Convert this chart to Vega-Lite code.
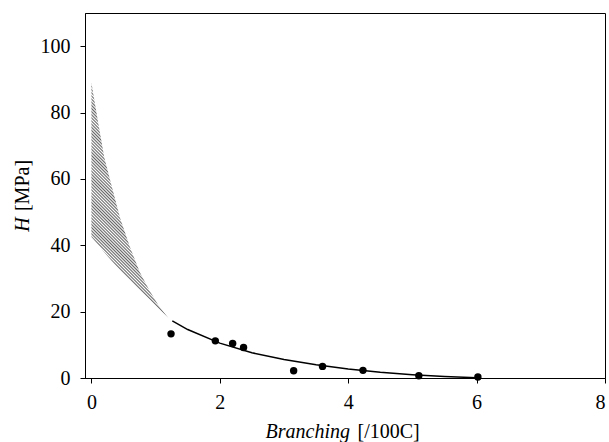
{
  "$schema": "https://vega.github.io/schema/vega-lite/v6.json",
  "width": 520,
  "height": 365,
  "autosize": "none",
  "padding": {"left": 85, "top": 13, "right": 4, "bottom": 64},
  "background": "white",
  "config": {
    "view": {"stroke": "black", "strokeWidth": 1},
    "font": "Liberation Serif",
    "axis": {
      "grid": false,
      "domainColor": "black",
      "tickColor": "black",
      "tickSize": 5,
      "labelFont": "Liberation Serif",
      "labelFontSize": 20,
      "labelColor": "black",
      "titleFont": "Liberation Serif",
      "titleFontSize": 20,
      "titleFontWeight": "normal",
      "titleColor": "black"
    }
  },
  "datasets": {
    "band": [
      {"b": 0, "hi": 89, "lo": 42.5},
      {"b": 0.1, "hi": 77.5, "lo": 40.2},
      {"b": 0.2, "hi": 66.5, "lo": 37.9},
      {"b": 0.3, "hi": 59, "lo": 35.6},
      {"b": 0.45, "hi": 48, "lo": 32.4},
      {"b": 0.6, "hi": 39.5, "lo": 29.5},
      {"b": 0.75, "hi": 32, "lo": 26.6},
      {"b": 0.9, "hi": 26.5, "lo": 23.8},
      {"b": 1.05, "hi": 21.7, "lo": 20.9},
      {"b": 1.2, "hi": 18, "lo": 18}
    ],
    "fit": [
      {"b": 1.26, "h": 17.2},
      {"b": 1.5, "h": 14.6},
      {"b": 2.0, "h": 10.5},
      {"b": 2.5, "h": 7.6},
      {"b": 3.0, "h": 5.6},
      {"b": 3.5, "h": 4.0},
      {"b": 4.0, "h": 2.7},
      {"b": 4.5, "h": 1.7},
      {"b": 5.0, "h": 1.0},
      {"b": 5.5, "h": 0.45},
      {"b": 6.0, "h": 0.1}
    ],
    "obs": [
      {"b": 1.24, "h": 13.3},
      {"b": 1.93, "h": 11.2},
      {"b": 2.2, "h": 10.4},
      {"b": 2.37, "h": 9.2},
      {"b": 3.15, "h": 2.2},
      {"b": 3.6, "h": 3.5},
      {"b": 4.23, "h": 2.3},
      {"b": 5.1, "h": 0.7},
      {"b": 6.02, "h": 0.3}
    ]
  },
  "layer": [
    {
      "data": {"name": "band"},
      "mark": {"type": "area", "opacity": 1,
        "fill": {"gradient": "linear", "x1": 0, "y1": 1, "x2": 0.394, "y2": -0.2,
          "stops": [
            {"offset": 0, "color": "#666"}, {"offset": 0.005, "color": "#fff"},
            {"offset": 0.01, "color": "#666"}, {"offset": 0.015, "color": "#fff"},
            {"offset": 0.02, "color": "#666"}, {"offset": 0.025, "color": "#fff"},
            {"offset": 0.03, "color": "#666"}, {"offset": 0.035, "color": "#fff"},
            {"offset": 0.04, "color": "#666"}, {"offset": 0.045, "color": "#fff"},
            {"offset": 0.05, "color": "#666"}, {"offset": 0.055, "color": "#fff"},
            {"offset": 0.06, "color": "#666"}, {"offset": 0.065, "color": "#fff"},
            {"offset": 0.07, "color": "#666"}, {"offset": 0.075, "color": "#fff"},
            {"offset": 0.08, "color": "#666"}, {"offset": 0.085, "color": "#fff"},
            {"offset": 0.09, "color": "#666"}, {"offset": 0.095, "color": "#fff"},
            {"offset": 0.1, "color": "#666"}, {"offset": 0.105, "color": "#fff"},
            {"offset": 0.11, "color": "#666"}, {"offset": 0.115, "color": "#fff"},
            {"offset": 0.12, "color": "#666"}, {"offset": 0.125, "color": "#fff"},
            {"offset": 0.13, "color": "#666"}, {"offset": 0.135, "color": "#fff"},
            {"offset": 0.14, "color": "#666"}, {"offset": 0.145, "color": "#fff"},
            {"offset": 0.15, "color": "#666"}, {"offset": 0.155, "color": "#fff"},
            {"offset": 0.16, "color": "#666"}, {"offset": 0.165, "color": "#fff"},
            {"offset": 0.17, "color": "#666"}, {"offset": 0.175, "color": "#fff"},
            {"offset": 0.18, "color": "#666"}, {"offset": 0.185, "color": "#fff"},
            {"offset": 0.19, "color": "#666"}, {"offset": 0.195, "color": "#fff"},
            {"offset": 0.2, "color": "#666"}, {"offset": 0.205, "color": "#fff"},
            {"offset": 0.21, "color": "#666"}, {"offset": 0.215, "color": "#fff"},
            {"offset": 0.22, "color": "#666"}, {"offset": 0.225, "color": "#fff"},
            {"offset": 0.23, "color": "#666"}, {"offset": 0.235, "color": "#fff"},
            {"offset": 0.24, "color": "#666"}, {"offset": 0.245, "color": "#fff"},
            {"offset": 0.25, "color": "#666"}, {"offset": 0.255, "color": "#fff"},
            {"offset": 0.26, "color": "#666"}, {"offset": 0.265, "color": "#fff"},
            {"offset": 0.27, "color": "#666"}, {"offset": 0.275, "color": "#fff"},
            {"offset": 0.28, "color": "#666"}, {"offset": 0.285, "color": "#fff"},
            {"offset": 0.29, "color": "#666"}, {"offset": 0.295, "color": "#fff"},
            {"offset": 0.3, "color": "#666"}, {"offset": 0.305, "color": "#fff"},
            {"offset": 0.31, "color": "#666"}, {"offset": 0.315, "color": "#fff"},
            {"offset": 0.32, "color": "#666"}, {"offset": 0.325, "color": "#fff"},
            {"offset": 0.33, "color": "#666"}, {"offset": 0.335, "color": "#fff"},
            {"offset": 0.34, "color": "#666"}, {"offset": 0.345, "color": "#fff"},
            {"offset": 0.35, "color": "#666"}, {"offset": 0.355, "color": "#fff"},
            {"offset": 0.36, "color": "#666"}, {"offset": 0.365, "color": "#fff"},
            {"offset": 0.37, "color": "#666"}, {"offset": 0.375, "color": "#fff"},
            {"offset": 0.38, "color": "#666"}, {"offset": 0.385, "color": "#fff"},
            {"offset": 0.39, "color": "#666"}, {"offset": 0.395, "color": "#fff"},
            {"offset": 0.4, "color": "#666"}, {"offset": 0.405, "color": "#fff"},
            {"offset": 0.41, "color": "#666"}, {"offset": 0.415, "color": "#fff"},
            {"offset": 0.42, "color": "#666"}, {"offset": 0.425, "color": "#fff"},
            {"offset": 0.43, "color": "#666"}, {"offset": 0.435, "color": "#fff"},
            {"offset": 0.44, "color": "#666"}, {"offset": 0.445, "color": "#fff"},
            {"offset": 0.45, "color": "#666"}, {"offset": 0.455, "color": "#fff"},
            {"offset": 0.46, "color": "#666"}, {"offset": 0.465, "color": "#fff"},
            {"offset": 0.47, "color": "#666"}, {"offset": 0.475, "color": "#fff"},
            {"offset": 0.48, "color": "#666"}, {"offset": 0.485, "color": "#fff"},
            {"offset": 0.49, "color": "#666"}, {"offset": 0.495, "color": "#fff"},
            {"offset": 0.5, "color": "#666"}, {"offset": 0.505, "color": "#fff"},
            {"offset": 0.51, "color": "#666"}, {"offset": 0.515, "color": "#fff"},
            {"offset": 0.52, "color": "#666"}, {"offset": 0.525, "color": "#fff"},
            {"offset": 0.53, "color": "#666"}, {"offset": 0.535, "color": "#fff"},
            {"offset": 0.54, "color": "#666"}, {"offset": 0.545, "color": "#fff"},
            {"offset": 0.55, "color": "#666"}, {"offset": 0.555, "color": "#fff"},
            {"offset": 0.56, "color": "#666"}, {"offset": 0.565, "color": "#fff"},
            {"offset": 0.57, "color": "#666"}, {"offset": 0.575, "color": "#fff"},
            {"offset": 0.58, "color": "#666"}, {"offset": 0.585, "color": "#fff"},
            {"offset": 0.59, "color": "#666"}, {"offset": 0.595, "color": "#fff"},
            {"offset": 0.6, "color": "#666"}, {"offset": 0.605, "color": "#fff"},
            {"offset": 0.61, "color": "#666"}, {"offset": 0.615, "color": "#fff"},
            {"offset": 0.62, "color": "#666"}, {"offset": 0.625, "color": "#fff"},
            {"offset": 0.63, "color": "#666"}, {"offset": 0.635, "color": "#fff"},
            {"offset": 0.64, "color": "#666"}, {"offset": 0.645, "color": "#fff"},
            {"offset": 0.65, "color": "#666"}, {"offset": 0.655, "color": "#fff"},
            {"offset": 0.66, "color": "#666"}, {"offset": 0.665, "color": "#fff"},
            {"offset": 0.67, "color": "#666"}, {"offset": 0.675, "color": "#fff"},
            {"offset": 0.68, "color": "#666"}, {"offset": 0.685, "color": "#fff"},
            {"offset": 0.69, "color": "#666"}, {"offset": 0.695, "color": "#fff"},
            {"offset": 0.7, "color": "#666"}, {"offset": 0.705, "color": "#fff"},
            {"offset": 0.71, "color": "#666"}, {"offset": 0.715, "color": "#fff"},
            {"offset": 0.72, "color": "#666"}, {"offset": 0.725, "color": "#fff"},
            {"offset": 0.73, "color": "#666"}, {"offset": 0.735, "color": "#fff"},
            {"offset": 0.74, "color": "#666"}, {"offset": 0.745, "color": "#fff"},
            {"offset": 0.75, "color": "#666"}, {"offset": 0.755, "color": "#fff"},
            {"offset": 0.76, "color": "#666"}, {"offset": 0.765, "color": "#fff"},
            {"offset": 0.77, "color": "#666"}, {"offset": 0.775, "color": "#fff"},
            {"offset": 0.78, "color": "#666"}, {"offset": 0.785, "color": "#fff"},
            {"offset": 0.79, "color": "#666"}, {"offset": 0.795, "color": "#fff"},
            {"offset": 0.8, "color": "#666"}, {"offset": 0.805, "color": "#fff"},
            {"offset": 0.81, "color": "#666"}, {"offset": 0.815, "color": "#fff"},
            {"offset": 0.82, "color": "#666"}, {"offset": 0.825, "color": "#fff"},
            {"offset": 0.83, "color": "#666"}, {"offset": 0.835, "color": "#fff"},
            {"offset": 0.84, "color": "#666"}, {"offset": 0.845, "color": "#fff"},
            {"offset": 0.85, "color": "#666"}, {"offset": 0.855, "color": "#fff"},
            {"offset": 0.86, "color": "#666"}, {"offset": 0.865, "color": "#fff"},
            {"offset": 0.87, "color": "#666"}, {"offset": 0.875, "color": "#fff"},
            {"offset": 0.88, "color": "#666"}, {"offset": 0.885, "color": "#fff"},
            {"offset": 0.89, "color": "#666"}, {"offset": 0.895, "color": "#fff"},
            {"offset": 0.9, "color": "#666"}, {"offset": 0.905, "color": "#fff"},
            {"offset": 0.91, "color": "#666"}, {"offset": 0.915, "color": "#fff"},
            {"offset": 0.92, "color": "#666"}, {"offset": 0.925, "color": "#fff"},
            {"offset": 0.93, "color": "#666"}, {"offset": 0.935, "color": "#fff"},
            {"offset": 0.94, "color": "#666"}, {"offset": 0.945, "color": "#fff"},
            {"offset": 0.95, "color": "#666"}, {"offset": 0.955, "color": "#fff"},
            {"offset": 0.96, "color": "#666"}, {"offset": 0.965, "color": "#fff"},
            {"offset": 0.97, "color": "#666"}, {"offset": 0.975, "color": "#fff"},
            {"offset": 0.98, "color": "#666"}, {"offset": 0.985, "color": "#fff"},
            {"offset": 0.99, "color": "#666"}, {"offset": 0.995, "color": "#fff"},
            {"offset": 1, "color": "#666"}
          ]}},
      "encoding": {
        "x": {"field": "b", "type": "quantitative",
              "scale": {"domain": [-0.1, 8], "nice": false, "zero": false},
              "axis": {"orient": "bottom", "values": [0, 2, 4, 6, 8], "title": "Branching", "titleFontStyle": "italic",
                       "labelFont": "Liberation Serif", "labelFontSize": 20,
                       "labelPadding": 9, "titleAlign": "left", "titleX": 180, "titleY": 59, "titleBaseline": "alphabetic"}},
        "y": {"field": "hi", "type": "quantitative",
              "scale": {"domain": [0, 110], "nice": false},
              "axis": {"orient": "left", "values": [0, 20, 40, 60, 80, 100], "title": "H", "titleFontStyle": "italic",
                       "labelFont": "Liberation Serif", "labelFontSize": 20,
                       "labelPadding": 10, "titleAngle": -90, "titleX": -63, "titleY": 211, "titleAlign": "center", "titleBaseline": "middle"}},
        "y2": {"field": "lo"}
      }
    },
    {
      "data": {"name": "fit"},
      "mark": {"type": "line", "color": "black", "strokeWidth": 1.5},
      "encoding": {
        "x": {"field": "b", "type": "quantitative",
              "axis": {"orient": "bottom", "title": "[/100C]", "labels": false, "ticks": false, "domain": false,
                       "titleAlign": "left", "titleX": 272, "titleY": 59, "titleBaseline": "alphabetic"}},
        "y": {"field": "h", "type": "quantitative",
              "axis": {"orient": "left", "title": "[MPa]", "labels": false, "ticks": false, "domain": false,
                       "titleAngle": -90, "titleX": -63, "titleY": 172, "titleAlign": "center", "titleBaseline": "middle"}}
      }
    },
    {
      "data": {"name": "obs"},
      "mark": {"type": "circle", "color": "black", "opacity": 1, "size": 55},
      "encoding": {
        "x": {"field": "b", "type": "quantitative", "axis": null},
        "y": {"field": "h", "type": "quantitative", "axis": null}
      }
    }
  ],
  "resolve": {"axis": {"x": "independent", "y": "independent"}}
}
